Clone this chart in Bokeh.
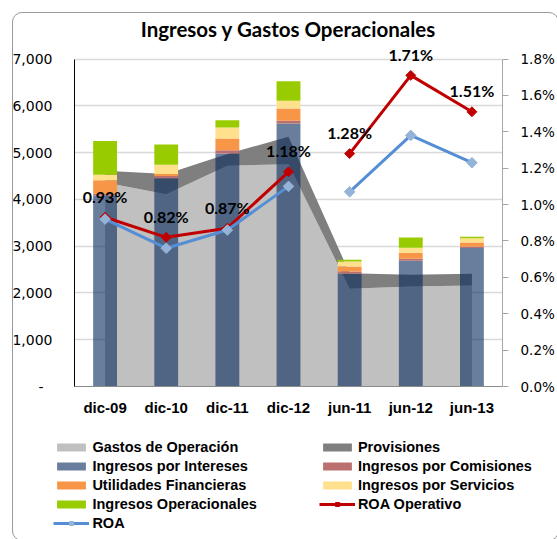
import math
from bokeh.plotting import figure
from bokeh.models import (ColumnDataSource, Range1d, LinearAxis, FixedTicker, PrintfTickFormatter,
                          CustomJSTickFormatter, Legend, LegendItem, LabelSet, FactorRange, Div)
from bokeh.core.properties import value
from bokeh.embed import file_html
from bokeh.resources import INLINE

# ---------------- data ----------------
categories = ["dic-09", "dic-10", "dic-11", "dic-12", "jun-11", "jun-12", "jun-13"]

gastos_operacion = [4360, 4110, 4720, 4750, 2090, 2140, 2160]
provisiones = [250, 430, 250, 590, 330, 250, 250]

ingresos_intereses = [4080, 4450, 4980, 5620, 2410, 2690, 2960]
ingresos_comisiones = [40, 50, 70, 60, 50, 40, 30]
utilidades_financieras = [290, 40, 250, 264, 107, 130, 90]
ingresos_servicios = [115, 200, 236, 164, 107, 107, 90]
ingresos_operacionales = [725, 430, 157, 414, 36, 220, 30]

roa_operativo = [0.93, 0.82, 0.87, 1.18, 1.28, 1.71, 1.51]
roa = [0.92, 0.76, 0.86, 1.10, 1.07, 1.38, 1.23]

left_ticks = [0, 1000, 2000, 3000, 4000, 5000, 6000, 7000]
right_ticks = [0.0, 0.2, 0.4, 0.6, 0.8, 1.0, 1.2, 1.4, 1.6, 1.8]

# ---------------- styles ----------------
C_GASTOS, C_PROV = "#c0c0c0", "#7f7f7f"
bar_colors = ["#03285a", "#b9706e", "#f79646", "#ffe08c", "#99cc00"]
bar_alphas = [0.6, 1, 1, 1, 1]
RED, BLUE, BLUE_MK = "#c00000", "#558ed5", "#95b3d7"

src = ColumnDataSource(dict(
    cat=categories,
    gastos=gastos_operacion,
    provisiones=provisiones,
    intereses=ingresos_intereses,
    comisiones=ingresos_comisiones,
    utilidades=utilidades_financieras,
    servicios=ingresos_servicios,
    operacionales=ingresos_operacionales,
    roa_op=roa_operativo,
    roa=roa,
    roa_label=[f"{v:.2f}%" for v in roa_operativo],
))

# frame reaches a little above the 7,000 line so the top data labels are not clipped
FRAME_TOP, FRAME_BOTTOM, Y7000 = 40, 386, 58.5
MAIN_H, LEG_H, W = 420, 119, 557
left_end = 7000 * (FRAME_BOTTOM - FRAME_TOP) / (FRAME_BOTTOM - Y7000)
right_end = 1.8 * (FRAME_BOTTOM - FRAME_TOP) / (FRAME_BOTTOM - Y7000)

p = figure(x_range=FactorRange(factors=categories), y_range=Range1d(0, left_end),
           width=W, height=MAIN_H, output_backend="svg", toolbar_location=None,
           min_border_left=74, min_border_right=54, min_border_top=FRAME_TOP,
           min_border_bottom=MAIN_H - FRAME_BOTTOM,
           title="Ingresos y Gastos Operacionales")
p.extra_y_ranges = {"pct": Range1d(0, right_end)}
p.outline_line_color = None
p.background_fill_color = "white"
p.border_fill_color = "white"

p.title.text_font = "Lato"
p.title.text_font_style = "bold"
p.title.text_font_size = "20.5px"
p.title.align = "center"
p.title.text_color = "black"
p.title.standoff = 0

yax = p.yaxis[0]
yax.ticker = FixedTicker(ticks=left_ticks)
yax.bounds = (0, 7000)
yax.formatter = CustomJSTickFormatter(
    code="return tick == 0 ? '-\\u00a0\\u00a0' : tick.toLocaleString('en-US');")
yax.axis_line_color = "black"
yax.major_tick_out = 0
yax.major_tick_in = 0
yax.minor_tick_out = 0
yax.minor_tick_in = 0
yax.major_label_standoff = 22
yax.major_label_text_font = "DejaVu Sans"
yax.major_label_text_font_size = "14px"
yax.major_label_text_color = "black"

xax = p.xaxis[0]
xax.axis_line_color = "#8c8c8c"
xax.major_tick_out = 0
xax.major_tick_in = 0
xax.major_label_standoff = 12
xax.major_label_text_font = "Liberation Sans"
xax.major_label_text_font_style = "bold"
xax.major_label_text_font_size = "15px"
xax.major_label_text_color = "black"

rax = LinearAxis(y_range_name="pct", ticker=FixedTicker(ticks=right_ticks),
                 formatter=PrintfTickFormatter(format="%.1f%%"), bounds=(0, 1.8))
rax.axis_line_color = "#a6a6a6"
rax.major_tick_line_color = "#a6a6a6"
rax.major_tick_out = 6
rax.major_tick_in = 0
rax.minor_tick_out = 0
rax.minor_tick_in = 0
rax.major_label_standoff = 12
rax.major_label_text_font = "DejaVu Sans"
rax.major_label_text_font_size = "13.5px"
rax.major_label_text_color = "black"
p.add_layout(rax, "right")

p.xgrid.visible = False
p.ygrid.ticker = FixedTicker(ticks=left_ticks)
p.ygrid.grid_line_color = "#d9d9d9"
p.ygrid.grid_line_width = 1.5

# stacked areas
areas = p.varea_stack(["gastos", "provisiones"], x="cat", source=src,
                      fill_color=[C_GASTOS, C_PROV])

# stacked bars
bars = p.vbar_stack(["intereses", "comisiones", "utilidades", "servicios", "operacionales"],
                    x="cat", width=0.39, source=src,
                    fill_color=bar_colors, fill_alpha=bar_alphas, line_color=None)

# ROA lines (gap between the December and June series)
p.line(x=categories[:4], y=roa_operativo[:4], y_range_name="pct", line_color=RED, line_width=3)
p.line(x=categories[4:], y=roa_operativo[4:], y_range_name="pct", line_color=RED, line_width=3)
p.scatter(x="cat", y="roa_op", source=src, y_range_name="pct", marker="square",
          angle=math.pi / 4, size=7, fill_color=RED, line_color=RED)
p.line(x=categories[:4], y=roa[:4], y_range_name="pct", line_color=BLUE, line_width=3)
p.line(x=categories[4:], y=roa[4:], y_range_name="pct", line_color=BLUE, line_width=3)
p.scatter(x="cat", y="roa", source=src, y_range_name="pct", marker="square",
          angle=math.pi / 4, size=7.5, fill_color=BLUE_MK, line_color=BLUE_MK)

labels = LabelSet(x="cat", y="roa_op", text="roa_label", source=src, y_range_name="pct",
                  y_offset=21, text_align="center", text_baseline="middle",
                  text_font=value("Lato"), text_font_style="bold", text_font_size="16px",
                  text_color="black")
p.add_layout(labels)

# ---------------- legend strip (separate root, key glyphs only) ----------------
q = figure(width=W, height=LEG_H, output_backend="svg", toolbar_location=None,
           x_range=Range1d(0, 1), y_range=Range1d(0, 1),
           min_border_left=0, min_border_right=0, min_border_top=0, min_border_bottom=0)
q.axis.visible = False
q.grid.visible = False
q.outline_line_color = None
q.border_fill_color = "white"
NAN = float("nan")

def key_area(color, alpha=1.0):
    return q.vbar(x=[NAN], top=[NAN], width=1, fill_color=color, fill_alpha=alpha, line_color=None)

def key_line(color, mk_color, size):
    ln = q.line(x=[NAN], y=[NAN], line_color=color, line_width=3)
    mk = q.scatter(x=[NAN], y=[NAN], marker="square", angle=math.pi / 4, size=size,
                   fill_color=mk_color, line_color=mk_color)
    return [ln, mk]

def make_legend(items, loc):
    lg = Legend(items=items, location=loc, orientation="vertical")
    lg.padding = 0
    lg.margin = 0
    lg.spacing = 0
    lg.glyph_width = 36
    lg.glyph_height = 10
    lg.label_height = 19
    lg.label_standoff = 3
    lg.label_text_font = "Liberation Sans"
    lg.label_text_font_style = "bold"
    lg.label_text_font_size = "14.5px"
    lg.label_text_color = "black"
    lg.background_fill_alpha = 0
    lg.border_line_color = None
    return lg

leg1 = make_legend([
    LegendItem(label="Gastos de Operación", renderers=[key_area(C_GASTOS)]),
    LegendItem(label="Ingresos por Intereses", renderers=[key_area(bar_colors[0], bar_alphas[0])]),
    LegendItem(label="Utilidades Financieras", renderers=[key_area(bar_colors[2])]),
    LegendItem(label="Ingresos Operacionales", renderers=[key_area(bar_colors[4])]),
    LegendItem(label="ROA", renderers=key_line(BLUE, BLUE_MK, 7.5)),
], (53.4, LEG_H - 17.8 - 5 * 19))
leg2 = make_legend([
    LegendItem(label="Provisiones", renderers=[key_area(C_PROV)]),
    LegendItem(label="Ingresos por Comisiones", renderers=[key_area(bar_colors[1])]),
    LegendItem(label="Ingresos por Servicios", renderers=[key_area(bar_colors[3])]),
    LegendItem(label="ROA Operativo", renderers=key_line(RED, RED, 7)),
], (318.9, LEG_H - 17.8 - 4 * 19))
q.add_layout(leg1)
q.add_layout(leg2)

# rounded chart-area border drawn over both parts
frame_box = Div(text="", width=547, height=529,
                styles={"position": "absolute", "left": "7px", "top": "7px",
                        "border": "1px solid #9a9a9a", "border-radius": "10px",
                        "pointer-events": "none", "background": "transparent"})

open("out.html", "w").write(file_html([p, q, frame_box], INLINE))
